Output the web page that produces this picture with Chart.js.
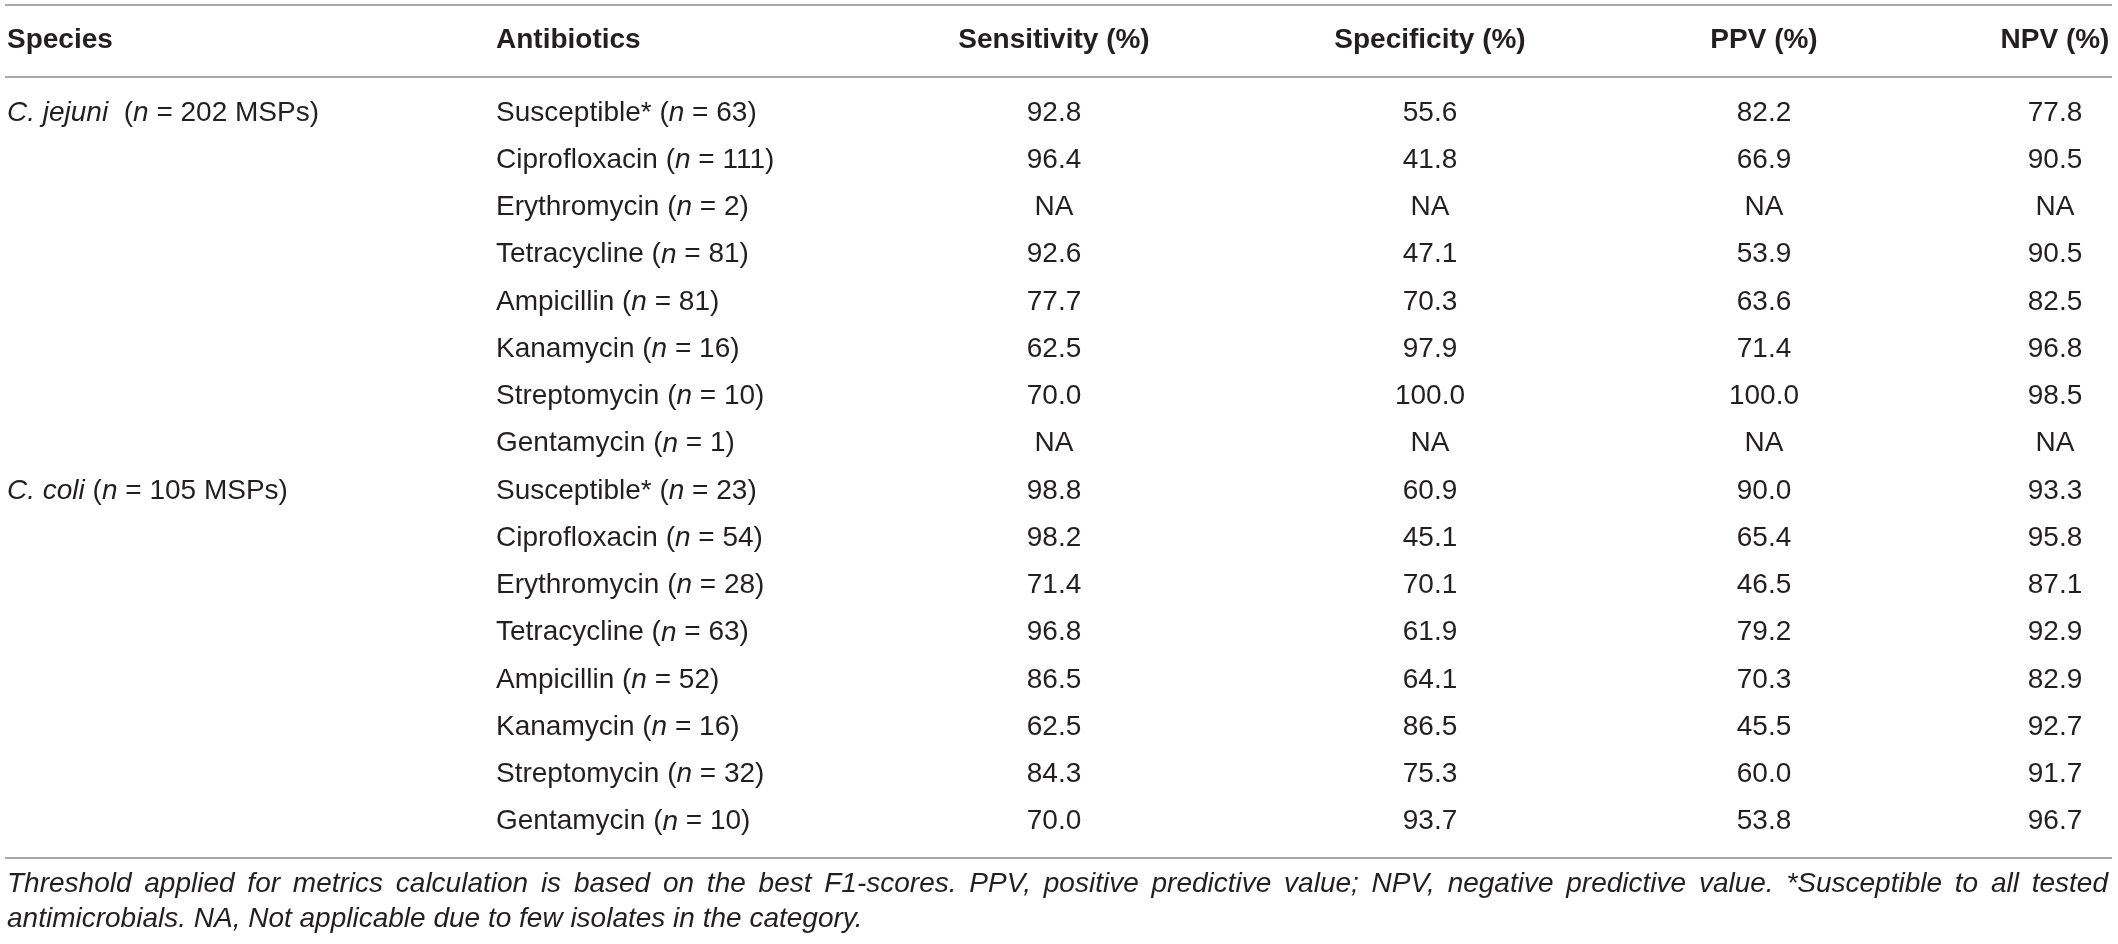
<!DOCTYPE html>
<html><head><meta charset="utf-8">
<script src="https://cdn.jsdelivr.net/npm/chart.js@4.4.1/dist/chart.umd.min.js"></script>
<style>html,body{margin:0;padding:0;background:#fff}#wrap{width:2118px;height:944px;position:relative}</style>
</head><body><div id="wrap"><canvas id="c"></canvas></div>
<script>
// ---------- DATA ----------
const columnHeaders = ['Species', 'Antibiotics', 'Sensitivity (%)', 'Specificity (%)', 'PPV (%)', 'NPV (%)'];
const speciesNames = ['C. jejuni', 'C. coli'];
const speciesGap = ['  (', ' ('];
const speciesMSPs = [202, 105];
const antibioticNames = ['Susceptible*', 'Ciprofloxacin', 'Erythromycin', 'Tetracycline', 'Ampicillin', 'Kanamycin', 'Streptomycin', 'Gentamycin'];
const isolatesJejuni = [63, 111, 2, 81, 81, 16, 10, 1];
const isolatesColi = [23, 54, 28, 63, 52, 16, 32, 10];
// null = NA
const sensitivity = [92.8, 96.4, null, 92.6, 77.7, 62.5, 70.0, null, 98.8, 98.2, 71.4, 96.8, 86.5, 62.5, 84.3, 70.0];
const specificity = [55.6, 41.8, null, 47.1, 70.3, 97.9, 100.0, null, 60.9, 45.1, 70.1, 61.9, 64.1, 86.5, 75.3, 93.7];
const ppv = [82.2, 66.9, null, 53.9, 63.6, 71.4, 100.0, null, 90.0, 65.4, 46.5, 79.2, 70.3, 45.5, 60.0, 53.8];
const npv = [77.8, 90.5, null, 90.5, 82.5, 96.8, 98.5, null, 93.3, 95.8, 87.1, 92.9, 82.9, 92.7, 91.7, 96.7];
const footnoteLines = [
  'Threshold applied for metrics calculation is based on the best F1-scores. PPV, positive predictive value; NPV, negative predictive value. *Susceptible to all tested',
  'antimicrobials. NA, Not applicable due to few isolates in the category.'
];

// ---------- LAYOUT / STYLE ----------
const layout = {
  colX: [7, 496, 1054, 1430, 1764, 2055],
  colAlign: ['left', 'left', 'center', 'center', 'center', 'center'],
  headerRow: -1.53,
  rules: [-2.28, -0.76, 15.77],
  ruleX: [5, 2112],
  noteRows: [16.33, 17.07],
  noteX: [7, 2108],
  yMin: -2.392, yMax: 17.587, xMax: 2118
};
const FONT = '"Liberation Sans", Arial, Helvetica, sans-serif';
const TEXT = '#231f20';
const RULE = '#a7a9ac';
const SIZE = 28;

// ---------- BUILD CELLS ----------
const nRows = isolatesJejuni.length + isolatesColi.length;
const allIsolates = isolatesJejuni.concat(isolatesColi);
const rowIdx = Array.from({length: nRows}, (_, i) => i);

function speciesCells() {
  const out = [];
  speciesNames.forEach((s, k) => {
    out.push({
      x: layout.colX[0], y: k * isolatesJejuni.length,
      segs: [[s, true], [speciesGap[k], false], ['n', true], [' = ' + speciesMSPs[k] + ' MSPs)', false]]
    });
  });
  return out;
}
function antibioticCells() {
  return rowIdx.map(i => ({
    x: layout.colX[1], y: i,
    segs: [[antibioticNames[i % antibioticNames.length] + ' (', false], ['n', true], [' = ' + allIsolates[i] + ')', false]]
  }));
}
function metricCells(arr, col) {
  return arr.map((v, i) => ({
    x: layout.colX[col], y: i,
    segs: [[v === null ? 'NA' : v.toFixed(1), false]]
  }));
}
const headerCells = columnHeaders.map((h, c) => ({x: layout.colX[c], y: layout.headerRow, segs: [[h, false]]}));

const datasets = [
  {label: 'header', data: headerCells, bold: true, cols: [0, 1, 2, 3, 4, 5]},
  {label: 'species', data: speciesCells(), col: 0},
  {label: 'antibiotics', data: antibioticCells(), col: 1},
  {label: 'sensitivity', data: metricCells(sensitivity, 2), col: 2},
  {label: 'specificity', data: metricCells(specificity, 3), col: 3},
  {label: 'ppv', data: metricCells(ppv, 4), col: 4},
  {label: 'npv', data: metricCells(npv, 5), col: 5}
].map(d => Object.assign(d, {pointRadius: 0, pointHoverRadius: 0, showLine: false}));

function font(bold, italic) {
  return (italic ? 'italic ' : '') + (bold ? 'bold ' : '') + SIZE + 'px ' + FONT;
}
function drawRich(ctx, segs, x, y, align, bold) {
  let total = 0;
  const w = segs.map(([t, it]) => { ctx.font = font(bold, it); const m = ctx.measureText(t).width; total += m; return m; });
  let cx = align === 'center' ? x - total / 2 : x;
  segs.forEach(([t, it], i) => {
    ctx.font = font(bold, it);
    ctx.fillText(t, cx, y);
    cx += w[i];
  });
}

const tablePlugin = {
  id: 'tableText',
  afterDatasetsDraw(chart) {
    const ctx = chart.ctx;
    const xs = chart.scales.x, ys = chart.scales.y;
    ctx.save();
    // rules
    ctx.strokeStyle = RULE;
    ctx.lineWidth = 2;
    layout.rules.forEach(r => {
      const py = Math.round(ys.getPixelForValue(r));
      ctx.beginPath();
      ctx.moveTo(xs.getPixelForValue(layout.ruleX[0]), py);
      ctx.lineTo(xs.getPixelForValue(layout.ruleX[1]), py);
      ctx.stroke();
    });
    // cells
    ctx.fillStyle = TEXT;
    ctx.textBaseline = 'middle';
    ctx.textAlign = 'left';
    chart.data.datasets.forEach((ds, di) => {
      const meta = chart.getDatasetMeta(di);
      meta.data.forEach((el, i) => {
        const col = ds.cols ? ds.cols[i] : ds.col;
        drawRich(ctx, ds.data[i].segs, el.x, el.y, layout.colAlign[col], !!ds.bold);
      });
    });
    // footnote
    ctx.font = font(false, true);
    footnoteLines.forEach((line, li) => {
      const py = ys.getPixelForValue(layout.noteRows[li]);
      const x0 = xs.getPixelForValue(layout.noteX[0]);
      const x1 = xs.getPixelForValue(layout.noteX[1]);
      if (li < footnoteLines.length - 1) {
        const words = line.split(' ');
        const ws = words.map(w => ctx.measureText(w).width);
        const sum = ws.reduce((a, b) => a + b, 0);
        const gap = (x1 - x0 - sum) / (words.length - 1);
        let cx = x0;
        words.forEach((w, i) => { ctx.fillText(w, cx, py); cx += ws[i] + gap; });
      } else {
        ctx.fillText(line, x0, py);
      }
    });
    ctx.restore();
  }
};

new Chart(document.getElementById('c'), {
  type: 'scatter',
  data: {datasets},
  options: {
    responsive: true,
    maintainAspectRatio: false,
    animation: false,
    events: [],
    layout: {padding: 0},
    plugins: {legend: {display: false}, tooltip: {enabled: false}},
    scales: {
      x: {type: 'linear', display: false, min: 0, max: layout.xMax},
      y: {type: 'linear', display: false, reverse: true, min: layout.yMin, max: layout.yMax}
    }
  },
  plugins: [tablePlugin]
});
</script>
</body></html>
